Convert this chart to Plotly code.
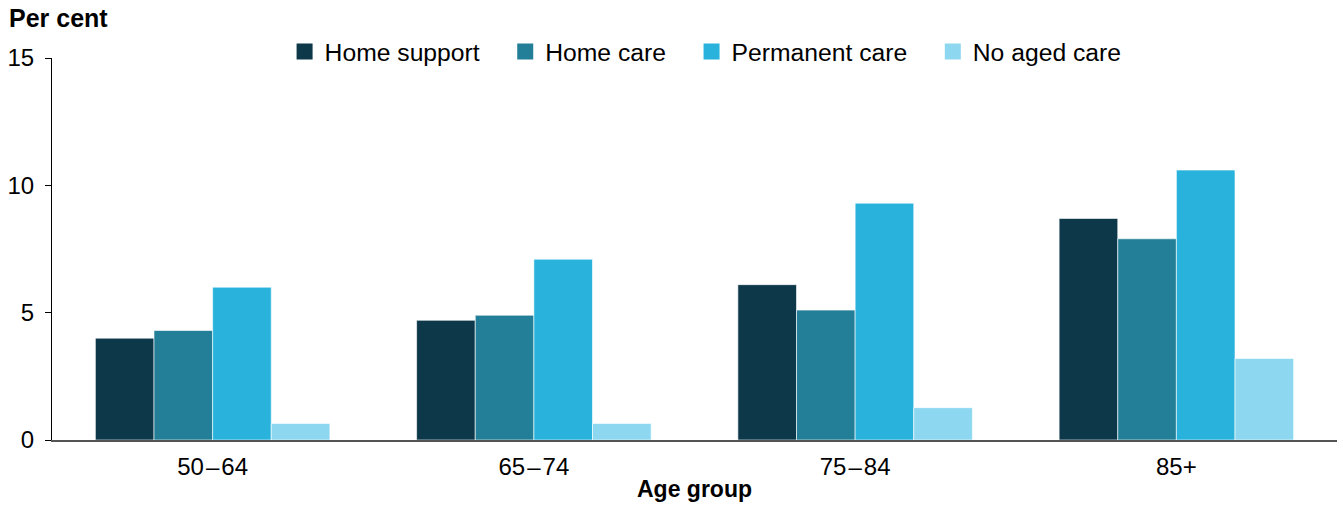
import plotly.graph_objects as go

categories = ["50\u200a\u2013\u200a64", "65\u200a\u2013\u200a74", "75\u200a\u2013\u200a84", "85+"]
home_support = [4.0, 4.7, 6.1, 8.7]
home_care = [4.3, 4.9, 5.1, 7.9]
permanent_care = [6.0, 7.1, 9.3, 10.6]
no_aged_care = [0.65, 0.65, 1.27, 3.2]

series = [
    ("Home support", home_support, "#0c384a"),
    ("Home care", home_care, "#237f97"),
    ("Permanent care", permanent_care, "#29b3dc"),
    ("No aged care", no_aged_care, "#8ed7f0"),
]

fig = go.Figure()
for name, vals, col in series:
    fig.add_trace(go.Bar(
        x=categories, y=vals, name=name, showlegend=False,
        marker=dict(color=col, line=dict(color="rgba(255,255,255,0.6)", width=1)),
    ))
for i, (name, vals, col) in enumerate(series):
    label = name + ("\u00a0\u00a0\u00a0" if i < len(series) - 1 else "")
    fig.add_trace(go.Scatter(
        x=[None], y=[None], mode="markers", name=label,
        marker=dict(symbol="square", size=16, color=col),
    ))

font = "Liberation Sans, Arial, sans-serif"
fig.update_layout(
    width=1343, height=508,
    margin=dict(l=52, r=6, t=58, b=68),
    paper_bgcolor="white", plot_bgcolor="white",
    barmode="group", bargap=0.27, bargroupgap=0,
    font=dict(family=font, size=24, color="#000"),
    showlegend=True,
    legend=dict(orientation="h", x=0.181, xanchor="left", y=1.016, yanchor="middle",
                font=dict(size=24.7), traceorder="normal", itemwidth=30,
                itemsizing="trace", bgcolor="rgba(0,0,0,0)"),
    xaxis=dict(
        showline=True, linecolor="#555", linewidth=2, ticks="", showgrid=False,
        tickfont=dict(size=24), ticklabelstandoff=4,
        title=dict(text="<b>Age group</b>", font=dict(size=23), standoff=2),
    ),
    yaxis=dict(
        range=[0, 15], tickvals=[0, 5, 10, 15], showline=True, linecolor="#000",
        linewidth=1, ticks="outside", ticklen=6, tickcolor="#000", showgrid=False,
        zeroline=False, tickfont=dict(size=24), ticklabelstandoff=6,
    ),
    annotations=[dict(text="<b>Per cent</b>", xref="paper", yref="paper",
                      x=-0.035, y=1.0, xanchor="left", yanchor="middle", yshift=40,
                      showarrow=False, font=dict(size=25))],
)

fig.write_html("out.html")
